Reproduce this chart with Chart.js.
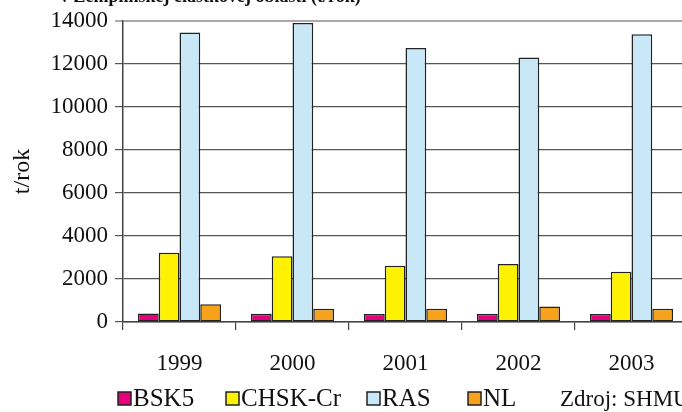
<!DOCTYPE html>
<html>
<head>
<meta charset="utf-8">
<script src="https://cdn.jsdelivr.net/npm/chart.js@4/dist/chart.umd.min.js"></script>
<style>
  html, body { margin: 0; padding: 0; background: #fff; overflow: hidden; }
  #wrap { width: 690px; height: 412px; position: relative; }
</style>
</head>
<body>
<div id="wrap"><canvas id="chart"></canvas></div>
<script>
var years = ['1999', '2000', '2001', '2002', '2003'];
var bsk5 = [390, 380, 370, 380, 370];
var chsk = [3220, 3060, 2620, 2700, 2340];
var ras = [13460, 13910, 12750, 12300, 13380];
var nl = [820, 620, 620, 720, 620];

var titleText = 'v Zemplínskej čiastkovej oblasti (t/rok)';
var sourceText = 'Zdroj: SHMU';
var serif = "'Liberation Serif', serif";

// clipped heading at the top, legend row and source note at the bottom
var extras = {
    id: 'extras',
    afterDraw: function(chart) {
        var ctx = chart.ctx;
        ctx.save();
        ctx.fillStyle = '#111';
        ctx.font = 'bold 18px ' + serif;
        ctx.textBaseline = 'alphabetic';
        ctx.fillText(titleText, 60, 2);

        var xs = [118, 226, 367, 468];
        ctx.font = '25px ' + serif;
        ctx.textBaseline = 'middle';
        chart.data.datasets.forEach(function(ds, i) {
            ctx.fillStyle = ds.backgroundColor;
            ctx.fillRect(xs[i], 392, 13, 13);
            ctx.strokeStyle = '#222';
            ctx.lineWidth = 1.5;
            ctx.strokeRect(xs[i], 392, 13, 13);
            ctx.fillStyle = '#111';
            ctx.fillText(ds.label, xs[i] + 15, 399);
        });
        ctx.font = '23px ' + serif;
        ctx.fillText(sourceText, 560, 400);
        ctx.restore();
    }
};

function ds(label, data, color) {
    return {
        label: label,
        data: data,
        backgroundColor: color,
        borderColor: '#222',
        borderWidth: 1.5,
        borderSkipped: false,
        barPercentage: 1,
        categoryPercentage: 0.735
    };
}

new Chart(document.getElementById('chart'), {
    type: 'bar',
    data: {
        labels: years,
        datasets: [
            ds('BSK5', bsk5, '#e6007e'),
            ds('CHSK-Cr', chsk, '#fff200'),
            ds('RAS', ras, '#c8e8f8'),
            ds('NL', nl, '#f7a21b')
        ]
    },
    options: {
        responsive: true,
        maintainAspectRatio: false,
        animation: false,
        layout: { padding: { top: 21, right: 2, bottom: 30, left: 0 } },
        plugins: {
            legend: { display: false },
            tooltip: { enabled: false }
        },
        scales: {
            x: {
                afterFit: function(s) { s.height = 60; },
                grid: {
                    drawOnChartArea: false,
                    drawTicks: true,
                    tickLength: 8,
                    color: '#444',
                    lineWidth: 1.2
                },
                border: { display: true, color: '#444', width: 1.5 },
                ticks: {
                    color: '#111',
                    font: { family: serif, size: 23 },
                    padding: 20
                }
            },
            y: {
                min: 0,
                max: 14000,
                afterFit: function(s) { s.width = 123; },
                grid: {
                    drawTicks: true,
                    tickLength: 8,
                    color: function(c) { return c.tick && c.tick.value === 14000 ? '#aaa' : '#555'; },
                    lineWidth: function(c) { return c.tick && c.tick.value === 14000 ? 2 : 1.2; }
                },
                border: { display: true, color: '#444', width: 1.5 },
                ticks: {
                    stepSize: 2000,
                    color: '#111',
                    font: { family: serif, size: 23 },
                    padding: 7,
                    callback: function(v) { return String(v); }
                },
                title: {
                    display: true,
                    text: 't/rok',
                    color: '#111',
                    font: { family: serif, size: 24 },
                    padding: { top: 8, bottom: 0 }
                }
            }
        }
    },
    plugins: [extras]
});
</script>
</body>
</html>
